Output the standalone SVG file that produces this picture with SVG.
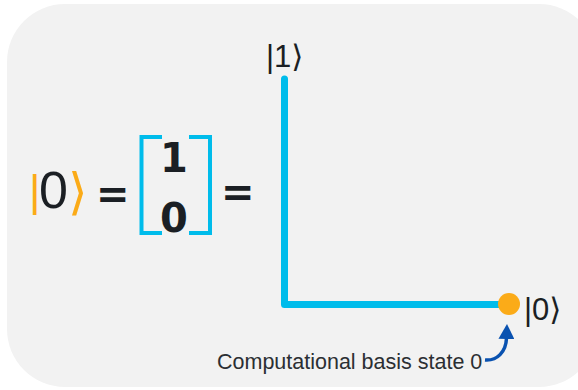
<svg xmlns="http://www.w3.org/2000/svg" width="578" height="390" viewBox="0 0 578 390">
  <style>
    .ket { font-family: "Liberation Sans", Arial, "DejaVu Sans", sans-serif; fill: #1b1f24; }
    .orange { fill: #FBAB18; }
    .mat { font-family: "DejaVu Sans", sans-serif; font-weight: bold; font-size: 40px; fill: #1b1f24; text-anchor: middle; }
    .bracket { fill: none; stroke: #00BCEB; stroke-width: 4; }
    .eq { font-family: "DejaVu Sans", sans-serif; font-weight: bold; font-size: 40px; fill: #1b1f24; }
    .label { font-family: "Liberation Sans", Arial, sans-serif; font-size: 21.5px; fill: #2b2f33; }
  </style>
  <defs>
    <marker id="arrow" markerUnits="userSpaceOnUse" markerWidth="16" markerHeight="16" viewBox="0 0 16 16" refX="1" refY="8" orient="auto">
      <path d="M0,0 L15,8 L0,16 z" fill="#0A52B0"/>
    </marker>
  </defs>
  <rect x="7" y="4" width="590" height="383" rx="58" ry="58" fill="#F2F2F2"/>

  <g id="equation">
    <text class="ket orange" x="29" y="206" font-size="44">|</text>
    <text class="ket" x="39" y="208" font-size="52">0</text>
    <text class="ket orange" x="68" y="209" font-size="50">⟩</text>
    <text class="eq" x="96" y="208">=</text>
    <path class="bracket" d="M162 137 H141.5 V233 H162"/>
    <path class="bracket" d="M189 137 H210 V233 H189"/>
    <text class="mat" x="174" y="172">1</text>
    <text class="mat" x="174" y="232">0</text>
    <text class="eq" x="221" y="206">=</text>
  </g>

  <g id="connectors">
    <path d="M284.5 79 V304.5 H508" fill="none" stroke="#00BCEB" stroke-width="7" stroke-linecap="round" stroke-linejoin="round"/>
    <path d="M485 360 C497 361, 506 352, 506.5 338" fill="none" stroke="#0A52B0" stroke-width="3.5" marker-end="url(#arrow)"/>
  </g>

  <g id="axis-labels">
    <text class="ket" x="266" y="67" font-size="31">|1⟩</text>
    <text class="ket" x="524" y="320" font-size="31">|0⟩</text>
  </g>

  <g id="state-point">
    <circle cx="509" cy="304" r="11" fill="#FBAB18"/>
  </g>

  <g id="caption">
    <text class="label" x="217" y="369">Computational basis state 0</text>
  </g>
</svg>
